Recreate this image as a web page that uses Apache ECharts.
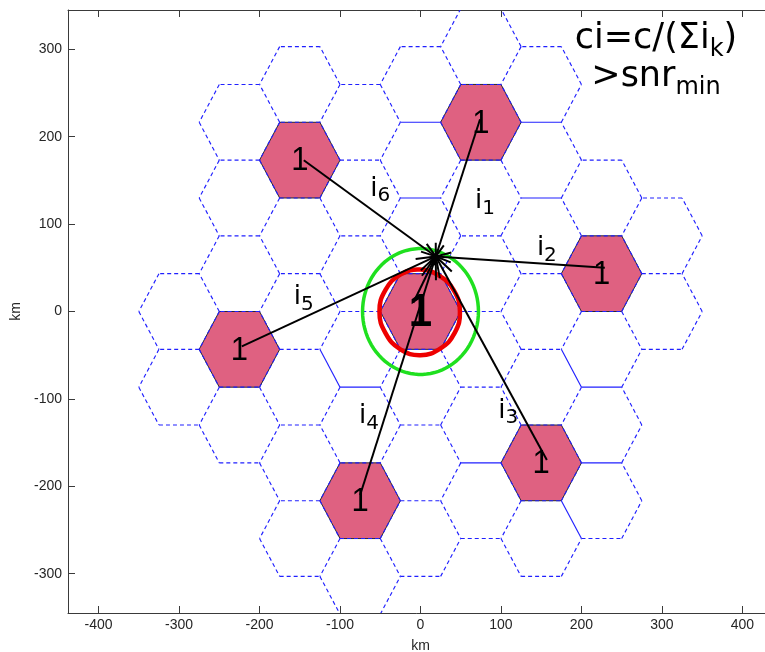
<!DOCTYPE html>
<html>
<head>
<meta charset="utf-8">
<script src="https://cdn.jsdelivr.net/npm/echarts@6/dist/echarts.min.js"></script>
<style>
  html, body { margin: 0; padding: 0; background: #ffffff; }
  #chart { width: 765px; height: 652px; }
</style>
</head>
<body>
<div id="chart"></div>
<script>
// ---- cell layout (km) ----
const cellRadius = 50;                       // centre-to-corner distance of a cell
const reuseCells = [[0, 0], [1, 2], [3, -1], [2, -3], [-1, -2], [-3, 1], [-2, 3]];   // axial (q, r) of co-channel cells
const clusterSteps = [[0, 0], [1, 0], [1, -1], [0, -1], [-1, 0], [-1, 1], [0, 1]];  // cell + its six neighbours
// cell borders that are drawn as continuous lines (pairs of neighbouring cells, axial)
const solidBorders = [
  [[0, 2], [0, 3]], [[0, 1], [0, 2]], [[2, 1], [2, 2]], [[2, 0], [2, 1]],
  [[1, -2], [1, -3]], [[3, -3], [3, -4]], [[2, -4], [3, -4]], [[3, -2], [3, -3]],
  [[2, -2], [3, -2]], [[-1, 0], [-1, -1]], [[-2, 0], [-1, 0]]
];

// ---- mobile and signal paths (km) ----
const mobile = [19, 63];
const pathStarts = [[-9, 10], [74, 220], [229, 50], [157, -170], [-75, -210], [-222, -40], [-145, 173]];
const interferenceNames = ['1', '2', '3', '4', '5', '6'];
const interferenceLabelPos = [[80, 126], [157, 72], [109, -114], [-64, -120], [-145, 16], [-50, 140]];

// ---- coverage rings (km) ----
const greenRadius = 72;
const redAngles = [0, 30, 60, 90, 120, 150, 180, 210, 240, 270, 300, 330];
const redRadii = [49, 48, 47, 48, 49, 50, 51, 50, 50, 50, 49, 49];

// ---- axes ----
const xRange = [-438, 438];
const yRange = [-345, 345];
const tickStep = 100;
const axisTitle = 'km';

// ---- colours ----
const cellFill = '#df6181';
const cellEdge = '#2020ff';
const ringGreen = '#1fe01f';
const ringRed = '#ee0000';

function axialToKm(q, r) {
  return [1.5 * cellRadius * q, Math.sqrt(3) * cellRadius * (r + q / 2)];
}
function hexCorners(cx, cy) {
  const pts = [];
  for (let k = 0; k < 6; k++) {
    const a = Math.PI / 3 * k;
    pts.push([cx + cellRadius * Math.cos(a), cy + cellRadius * Math.sin(a)]);
  }
  return pts;
}
function pointKey(p) { return Math.round(p[0] * 10) + ',' + Math.round(p[1] * 10); }
function edgeKey(a, b) { return [pointKey(a), pointKey(b)].sort().join('|'); }

const reuseCentres = reuseCells.map(c => axialToKm(c[0], c[1]));
const allCells = [];
reuseCells.forEach(c => clusterSteps.forEach(s => allCells.push([c[0] + s[0], c[1] + s[1]])));

// every distinct cell border, drawn once
const borders = new Map();
allCells.forEach(c => {
  const km = axialToKm(c[0], c[1]);
  const pts = hexCorners(km[0], km[1]);
  for (let k = 0; k < 6; k++) {
    const a = pts[k], b = pts[(k + 1) % 6];
    const key = edgeKey(a, b);
    if (!borders.has(key)) borders.set(key, [a[0], a[1], b[0], b[1], 0]);
  }
});
solidBorders.forEach(pair => {
  const A = axialToKm(pair[0][0], pair[0][1]), B = axialToKm(pair[1][0], pair[1][1]);
  const ka = hexCorners(A[0], A[1]), kb = new Set(hexCorners(B[0], B[1]).map(pointKey));
  const shared = ka.filter(p => kb.has(pointKey(p)));
  if (shared.length === 2) {
    const key = edgeKey(shared[0], shared[1]);
    if (borders.has(key)) borders.get(key)[4] = 1;
  }
});
const borderData = Array.from(borders.values());

function hexPixels(api, cx, cy) {
  return hexCorners(cx, cy).map(p => api.coord(p));
}
function ringPixels(api, radiusAt, angleAt, steps) {
  const pts = [];
  for (let k = 0; k < steps; k++) {
    const a = angleAt(k);
    const r = radiusAt(k);
    pts.push(api.coord([r * Math.cos(a), r * Math.sin(a)]));
  }
  return pts;
}

const axisColor = '#3a3a3a';
const tickFont = { color: '#262626', fontFamily: 'Liberation Sans', fontSize: 14 };

function xAxisDef(pos) {
  const primary = pos === 'bottom';
  return {
    type: 'value', position: pos, min: xRange[0], max: xRange[1],
    minInterval: tickStep, maxInterval: tickStep, splitNumber: 9,
    axisLine: { show: true, onZero: false, lineStyle: { color: axisColor, width: 1 } },
    axisTick: { show: true, inside: true, length: 7, lineStyle: { color: axisColor } },
    axisLabel: Object.assign({ show: primary, showMinLabel: false, showMaxLabel: false, margin: 5 }, tickFont),
    splitLine: { show: false },
    name: primary ? axisTitle : '', nameLocation: 'middle', nameGap: 26,
    nameTextStyle: { color: '#262626', fontFamily: 'Liberation Sans', fontSize: 14 }
  };
}
function yAxisDef(pos) {
  const primary = pos === 'left';
  return {
    type: 'value', position: pos, min: yRange[0], max: yRange[1],
    minInterval: tickStep, maxInterval: tickStep, splitNumber: 7,
    axisLine: { show: true, onZero: false, lineStyle: { color: axisColor, width: 1 } },
    axisTick: { show: true, inside: true, length: 7, lineStyle: { color: axisColor } },
    axisLabel: Object.assign({ show: primary, showMinLabel: false, showMaxLabel: false, margin: 6 }, tickFont),
    splitLine: { show: false },
    name: primary ? axisTitle : '', nameLocation: 'middle', nameGap: 38, nameRotate: 90,
    nameTextStyle: { color: '#262626', fontFamily: 'Liberation Sans', fontSize: 14 }
  };
}

const chart = echarts.init(document.getElementById('chart'), null, { renderer: 'canvas' });

const option = {
  animation: false,
  backgroundColor: '#ffffff',
  grid: { left: 68, top: 10, width: 705, height: 603, containLabel: false, outerBoundsMode: 'none' },
  xAxis: [xAxisDef('bottom'), xAxisDef('top')],
  yAxis: [yAxisDef('left'), yAxisDef('right')],
  graphic: [{
    type: 'text', x: 656, y: 20, z: 100,
    style: {
      text: '{m|ci=c/(Σi}{s|k}{m|)}\n{m|>snr}{s|min}',
      align: 'center', verticalAlign: 'top',
      rich: {
        m: { fontFamily: 'DejaVu Sans', fontSize: 35, lineHeight: 38, fill: '#000', color: '#000' },
        s: { fontFamily: 'DejaVu Sans', fontSize: 24, lineHeight: 10, padding: [21, 0, 0, 0], fill: '#000', color: '#000' }
      }
    }
  }],
  series: [
    {
      // co-channel cells
      type: 'custom', name: 'reuse', coordinateSystem: 'cartesian2d', clip: true, z: 1,
      data: reuseCentres,
      renderItem: (params, api) => ({
        type: 'polygon',
        shape: { points: hexPixels(api, api.value(0), api.value(1)) },
        style: { fill: cellFill, stroke: '#2a2a2a', lineWidth: 1 }
      })
    },
    {
      // cell borders
      type: 'custom', name: 'cells', coordinateSystem: 'cartesian2d', clip: true, z: 2,
      data: borderData,
      renderItem: (params, api) => {
        const a = api.coord([api.value(0), api.value(1)]);
        const b = api.coord([api.value(2), api.value(3)]);
        const solid = api.value(4) === 1;
        return {
          type: 'line',
          shape: { x1: a[0], y1: a[1], x2: b[0], y2: b[1] },
          style: { stroke: cellEdge, lineWidth: 1.15, lineDash: solid ? null : [4, 3] }
        };
      }
    },
    {
      // rings around the serving cell
      type: 'custom', name: 'rings', coordinateSystem: 'cartesian2d', clip: true, z: 3,
      data: [[0, 0]],
      renderItem: (params, api) => ({
        type: 'group',
        children: [
          {
            type: 'polygon',
            shape: { points: ringPixels(api, () => greenRadius, k => 2 * Math.PI * k / 90, 90) },
            style: { fill: 'none', stroke: ringGreen, lineWidth: 3.5 }
          },
          {
            type: 'polygon',
            shape: { points: ringPixels(api, k => redRadii[k], k => redAngles[k] * Math.PI / 180, redRadii.length), smooth: 0.45 },
            style: { fill: 'none', stroke: ringRed, lineWidth: 4.5 }
          }
        ]
      })
    },
    {
      // channel number of each co-channel cell
      type: 'custom', name: 'channel', coordinateSystem: 'cartesian2d', clip: true, z: 4,
      data: reuseCentres,
      renderItem: (params, api) => {
        const p = api.coord([api.value(0), api.value(1)]);
        const serving = params.dataIndex === 0;
        return {
          type: 'text', x: p[0], y: p[1] + (serving ? 2 : 1), scaleY: 1.085,
          style: {
            text: '1', x: 0, y: 0, align: 'center', verticalAlign: 'middle',
            fontFamily: 'Liberation Sans', fontSize: serving ? 42 : 31,
            fontWeight: serving ? 'bold' : 'normal', fill: '#000'
          }
        };
      }
    },
    {
      // paths from each cell to the mobile
      type: 'custom', name: 'paths', coordinateSystem: 'cartesian2d', clip: true, z: 5,
      data: pathStarts.map(s => [s[0], s[1], mobile[0], mobile[1]]),
      renderItem: (params, api) => {
        const p0 = api.coord([api.value(0), api.value(1)]);
        const p1 = api.coord([api.value(2), api.value(3)]);
        const dx = p1[0] - p0[0], dy = p1[1] - p0[1];
        const len = Math.hypot(dx, dy);
        const ux = dx / len, uy = dy / len;
        const head = Math.max(9, 0.095 * len);
        const ang = 18 * Math.PI / 180;
        const barb = s => [
          p1[0] - head * (ux * Math.cos(ang) - s * uy * Math.sin(ang)),
          p1[1] - head * (uy * Math.cos(ang) + s * ux * Math.sin(ang))
        ];
        return {
          type: 'group',
          children: [
            { type: 'line', shape: { x1: p0[0], y1: p0[1], x2: p1[0], y2: p1[1] }, style: { stroke: '#000', lineWidth: 2 } },
            { type: 'polyline', shape: { points: [barb(1), p1, barb(-1)] }, style: { stroke: '#000', lineWidth: 2, fill: 'none' } }
          ]
        };
      }
    },
    {
      // interference labels
      type: 'custom', name: 'labels', coordinateSystem: 'cartesian2d', clip: false, z: 6,
      data: interferenceLabelPos.map((p, i) => [p[0], p[1], i]),
      renderItem: (params, api) => {
        const p = api.coord([api.value(0), api.value(1)]);
        return {
          type: 'text', x: p[0], y: p[1],
          style: {
            text: '{m|i}{s|' + interferenceNames[api.value(2)] + '}',
            x: 0, y: 0, align: 'center', verticalAlign: 'middle',
            rich: {
              m: { fontFamily: 'DejaVu Sans', fontSize: 26, lineHeight: 30, fill: '#000', color: '#000' },
              s: { fontFamily: 'DejaVu Sans', fontSize: 20, lineHeight: 10, padding: [14, 0, 0, 0], fill: '#000', color: '#000' }
            }
          }
        };
      }
    }
  ]
};

chart.setOption(option);
</script>
</body>
</html>
